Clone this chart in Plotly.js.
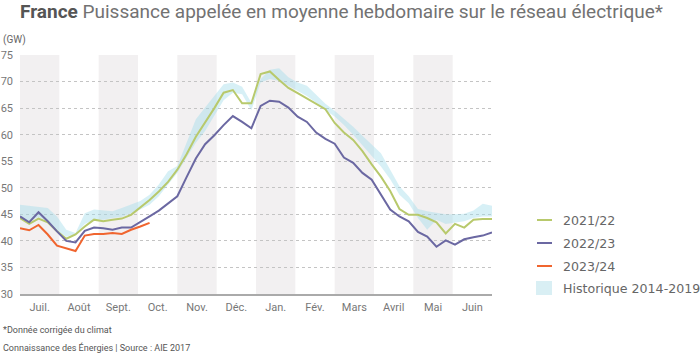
<!DOCTYPE html>
<html>
<head>
<meta charset="utf-8">
<script src="https://cdn.plot.ly/plotly-3.0.1.min.js"></script>
<style>
  html, body { margin: 0; padding: 0; background: #ffffff; }
  #chart { width: 700px; height: 354px; }
</style>
</head>
<body>
<div id="chart"></div>
<script>
// ---- data (weekly, Juillet -> Juin) ----
const months = ["Juil.", "Août", "Sept.", "Oct.", "Nov.", "Déc.", "Jan.", "Fév.", "Mars", "Avril", "Mai", "Juin"];

const s2021 = [44.3, 43.2, 44.2, 43.5, 41.8, 40.4, 41.2, 42.7, 44.0, 43.7, 44.0, 44.2, 44.9,
  46.3, 47.7, 49.3, 51.1, 53.4, 56.3, 59.6, 62.2, 65.0, 67.9, 68.4, 65.9, 65.9,
  71.4, 71.9, 70.3, 68.8, 67.8, 66.8, 65.8, 64.8, 62.2, 60.4, 59.0, 56.9, 54.4,
  52.1, 49.4, 46.0, 44.9, 44.9, 44.3, 43.5, 41.4, 43.2, 42.5, 44.0, 44.1, 44.1];

const s2022 = [44.6, 43.5, 45.4, 43.7, 41.8, 40.0, 39.7, 41.9, 42.5, 42.4, 42.1, 42.5, 42.5,
  43.5, 44.6, 45.7, 47.0, 48.4, 52.0, 55.5, 58.2, 59.9, 61.8, 63.5, 62.4, 61.2,
  65.4, 66.4, 66.2, 65.1, 63.4, 62.4, 60.4, 59.2, 58.3, 55.7, 54.7, 52.8, 51.5,
  48.7, 45.9, 44.6, 43.7, 41.7, 40.8, 38.9, 40.1, 39.3, 40.3, 40.7, 41.0, 41.6];

const s2023 = [42.4, 42.0, 43.0, 41.2, 39.1, 38.6, 38.1, 41.0, 41.3, 41.3, 41.5, 41.3, 42.1,
  42.7, 43.4];

const histHigh = [46.8, 46.6, 46.4, 46.2, 44.6, 42.1, 41.5, 45.2, 45.9, 45.8, 45.6, 46.2, 46.8,
  47.5, 48.7, 50.6, 53.1, 54.1, 58.5, 62.9, 65.1, 67.3, 69.5, 69.8, 69.0, 66.0,
  70.5, 72.2, 72.5, 70.8, 69.8, 69.2, 67.5, 65.8, 64.5, 63.0, 61.5, 59.8, 58.2,
  56.5, 53.4, 50.3, 48.4, 46.0, 45.6, 45.3, 45.0, 45.0, 45.1, 45.7, 47.0, 46.6];

const histLow = [44.6, 43.7, 44.5, 43.7, 41.8, 40.8, 41.2, 43.2, 44.0, 44.0, 44.3, 44.5, 45.2,
  45.9, 46.8, 48.4, 50.6, 52.8, 55.7, 58.5, 60.7, 63.5, 66.5, 67.9, 67.6, 64.6,
  69.8, 70.5, 70.1, 69.2, 68.3, 67.3, 66.0, 64.6, 63.4, 61.8, 60.0, 58.0, 56.0,
  54.0, 51.6, 48.7, 47.1, 44.3, 42.1, 44.0, 43.2, 43.4, 43.7, 44.3, 44.6, 44.6];

const seriesNames = ["2021/22", "2022/23", "2023/24", "Historique 2014-2019"];
const seriesColors = ["#b8c96c", "#6b68a2", "#f0652f", "rgba(160,220,234,0.42)"];

// ---- geometry helpers ----
const nWeeks = s2021.length;            // 52 weekly points
const xMax = nWeeks - 1;
const monthW = xMax / 12;
const weeks = (arr) => arr.map((_, i) => i);

const FONT = "Roboto, 'Open Sans', sans-serif";

const traces = [
  { x: weeks(histLow), y: histLow, type: "scatter", mode: "lines",
    line: { width: 0, color: "rgba(0,0,0,0)" }, showlegend: false, hoverinfo: "skip" },
  { x: weeks(histHigh), y: histHigh, type: "scatter", mode: "lines", fill: "tonexty",
    fillcolor: seriesColors[3], line: { width: 0, color: "rgba(0,0,0,0)" },
    name: seriesNames[3], showlegend: false },
  { x: weeks(s2021), y: s2021, type: "scatter", mode: "lines", name: seriesNames[0],
    line: { color: seriesColors[0], width: 2 }, showlegend: false },
  { x: weeks(s2022), y: s2022, type: "scatter", mode: "lines", name: seriesNames[1],
    line: { color: seriesColors[1], width: 2 }, showlegend: false },
  { x: weeks(s2023), y: s2023, type: "scatter", mode: "lines", name: seriesNames[2],
    line: { color: seriesColors[2], width: 2 }, showlegend: false }
];

// alternating month shading
const shapes = [];
for (let m = 0; m < 12; m += 2) {
  shapes.push({ type: "rect", layer: "below", xref: "x", yref: "paper",
    x0: m * monthW, x1: (m + 1) * monthW, y0: 0, y1: 1,
    fillcolor: "#f2f0f1", line: { width: 0 } });
}

// custom legend (paper coords; plot spans px 20..492 horizontally, 55..294 vertically)
const L = 20, R = 492, T = 55, B = 294;
const px = (p) => (p - L) / (R - L);
const py = (p) => (B - p) / (B - T);
const rows = [220, 243, 266, 288];
const annotations = [];
for (let i = 0; i < 3; i++) {
  shapes.push({ type: "line", xref: "paper", yref: "paper",
    x0: px(537), x1: px(552), y0: py(rows[i]), y1: py(rows[i]),
    line: { color: seriesColors[i], width: 2 } });
}
shapes.push({ type: "rect", xref: "paper", yref: "paper",
  x0: px(536), x1: px(552), y0: py(295), y1: py(281),
  fillcolor: "#d9eff4", line: { width: 0 } });
for (let i = 0; i < 4; i++) {
  annotations.push({ xref: "paper", yref: "paper", x: px(561), y: py(rows[i]),
    xanchor: "left", yanchor: "middle", showarrow: false, text: seriesNames[i],
    font: { family: "'DejaVu Sans', Verdana, sans-serif", size: 12.6, color: "#666666" } });
}

// y unit label + footers
annotations.push({ xref: "paper", yref: "paper", x: px(1), y: py(39.5), xanchor: "left",
  yanchor: "middle", showarrow: false, text: "(GW)",
  font: { family: FONT, size: 10, color: "#666666" } });
annotations.push({ xref: "paper", yref: "paper", x: px(1), y: py(330), xanchor: "left",
  yanchor: "middle", showarrow: false, text: "*Donnée corrigée du climat",
  font: { family: FONT, size: 9, color: "#555555" } });
annotations.push({ xref: "paper", yref: "paper", x: px(1), y: py(347.5), xanchor: "left",
  yanchor: "middle", showarrow: false, text: "Connaissance des Énergies | Source : AIE 2017",
  font: { family: FONT, size: 9, color: "#555555" } });

const layout = {
  width: 700, height: 354,
  margin: { l: L, r: 700 - R, t: T, b: 354 - B, pad: 0 },
  paper_bgcolor: "#ffffff", plot_bgcolor: "#ffffff",
  showlegend: false,
  title: {
    text: "<b style='color:#555555'>France</b> Puissance appelée en moyenne hebdomaire sur le réseau électrique*",
    x: 0, xref: "paper", xanchor: "left", y: 1, yref: "container", yanchor: "top",
    pad: { t: 5, l: 0 },
    font: { family: FONT, size: 19, color: "#727272" }
  },
  xaxis: {
    range: [0, xMax], showgrid: false, zeroline: false,
    showline: true, linecolor: "#aaaaaa", linewidth: 2,
    tickvals: months.map((_, m) => (m + 0.5) * monthW), ticktext: months,
    ticks: "", ticklabelstandoff: 2,
    tickfont: { family: FONT, size: 11, color: "#777777" }, fixedrange: true
  },
  yaxis: {
    range: [30, 75], dtick: 5, tick0: 30, showgrid: true,
    gridcolor: "#c4c4c4", griddash: "dot", gridwidth: 1,
    zeroline: false, showline: false, ticks: "", ticklabelstandoff: 6,
    tickfont: { family: FONT, size: 11, color: "#777777" }, fixedrange: true
  },
  shapes: shapes,
  annotations: annotations
};

Plotly.newPlot("chart", traces, layout, { displayModeBar: false, staticPlot: true });
</script>
</body>
</html>
